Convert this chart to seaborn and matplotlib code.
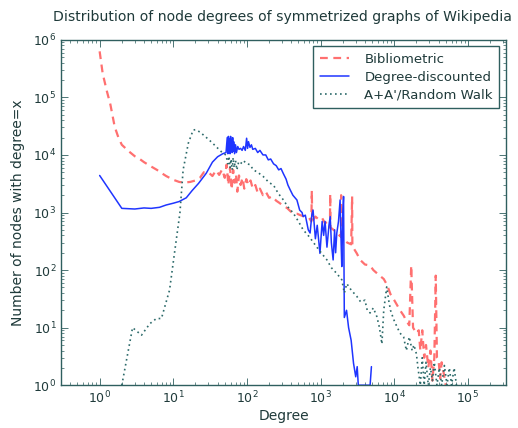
import matplotlib
matplotlib.use("Agg")
import matplotlib.pyplot as plt
import seaborn as sns
import pandas as pd
import numpy as np

# ---------------- data ----------------
bib_deg = [1, 1.1, 1.25, 1.4, 1.6, 1.8, 2.0, 2.5, 3.0, 3.5, 4.0, 5.0, 6.0, 7.0, 8.0,
           10, 12, 14, 17, 20, 23, 26, 30, 34, 38, 42, 46, 50, 53, 56, 59, 62, 65,
           68, 71, 74, 78, 82, 87, 92, 98, 105, 112, 120, 130, 140, 150, 165, 180,
           200, 220, 250, 280, 310, 350, 390, 430, 480, 530, 600, 700, 750, 760,
           770, 850, 950, 1050, 1150, 1250, 1340, 1350, 1360, 1500, 1650, 1800,
           1890, 1900, 1910, 2100, 2300, 2600, 2680, 2700, 3100, 3450, 4000, 4700,
           5200, 6000, 7200, 8000, 8900, 10000, 12000, 13500, 14600, 16000, 17000,
           18000, 20000, 21500, 22600, 24000, 25500, 27000, 29000, 31000, 33000,
           35000, 36600, 38000, 40000, 42000, 44000, 47000, 50000]
bib_cnt = [6.3e5, 2.6e5, 1.3e5, 7.5e4, 3.1e4, 2.0e4, 1.5e4, 1.15e4, 9.5e3, 8.5e3,
           7.5e3, 6.3e3, 5.5e3, 4.8e3, 4.3e3, 3.7e3, 3.4e3, 3.3e3, 3.4e3, 3.6e3,
           4.0e3, 5.0e3, 5.0e3, 4.3e3, 5.4e3, 4.5e3, 5.6e3, 4.0e3, 6.8e3, 3.0e3,
           6.0e3, 2.5e3, 5.5e3, 3.3e3, 4.6e3, 2.3e3, 4.4e3, 3.0e3, 4.0e3, 2.6e3,
           3.8e3, 3.0e3, 3.6e3, 2.6e3, 3.0e3, 2.2e3, 2.6e3, 2.0e3, 2.3e3, 1.8e3,
           1.9e3, 1.6e3, 1.45e3, 1.3e3, 1.2e3, 1.05e3, 950, 950, 900, 850, 800,
           700, 2400, 700, 850, 750, 800, 650, 700, 550, 2100, 550, 500, 450, 400,
           380, 2000, 380, 330, 300, 280, 1900, 260, 195, 150, 125, 120, 100, 85,
           70, 55, 38, 30, 20, 16, 13, 11, 120, 10, 8, 9, 4, 9, 3, 5, 2, 4, 1.2,
           3, 80, 3, 2.7, 1.3, 2.5, 1.6, 1]

dd_deg = [1, 2, 3, 4, 5, 6.5, 8, 10, 12, 15, 18, 22, 28, 34, 40, 47, 52, 54, 55,
          56, 57, 58, 59, 60, 61, 62, 63, 64, 65, 66, 68, 70, 72, 75, 78, 82, 86,
          90, 95, 99, 102, 105, 110, 115, 120, 130, 140, 150, 165, 180, 195, 210,
          230, 250, 270, 290, 313, 340, 360, 385, 420, 450, 477, 520, 560, 580,
          620, 680, 720, 760, 790, 850, 900, 980, 1050, 1100, 1150, 1220, 1300,
          1350, 1400, 1480, 1550, 1600, 1660, 1750, 1840, 1900, 1940, 2000, 2050,
          2100, 2250, 2400, 2600, 2800, 3000, 3140, 3250, 4700, 4900]
dd_cnt = [4400, 1180, 1150, 1200, 1180, 1230, 1350, 1450, 1550, 1800, 2400, 3200,
          4800, 7500, 9300, 10500, 11000, 20000, 10500, 21000, 11000, 19000, 10500,
          21000, 12000, 18000, 11000, 20000, 11500, 17000, 10500, 15000, 11000,
          14000, 12500, 13000, 12000, 14000, 12000, 19500, 13000, 17000, 13500,
          15000, 12500, 13000, 11000, 12000, 10000, 10000, 8200, 8500, 7000, 6500,
          5500, 5800, 4700, 3800, 3000, 2500, 2000, 1800, 1650, 1100, 1000, 850,
          900, 500, 440, 900, 1100, 350, 600, 195, 700, 400, 700, 250, 600, 850,
          300, 150, 500, 200, 440, 700, 1650, 300, 115, 900, 1900, 15, 20, 10, 6,
          2.4, 1.4, 2.1, 1, 1, 2.1]

rw_deg = [2, 2.8, 3.7, 4.8, 5.9, 6.9, 8.9, 10.5, 12.3, 13.6, 16, 18.6, 20, 23, 27,
          31, 37, 43, 48, 52, 55, 57, 59, 61, 63, 65, 67, 70, 73, 77, 82, 89, 100,
          110, 122, 140, 167, 200, 229, 266, 313, 360, 425, 500, 580, 700, 890,
          1050, 1220, 1400, 1660, 1940, 2100, 2270, 2600, 3100, 3500, 4000, 4300,
          4700, 5200, 5800, 6300, 6800, 7200, 7900, 8400, 8900, 9800, 10900, 12000,
          13400, 14600, 16000, 17500, 18500, 20000, 21000, 22600, 24000, 25500,
          27000, 29000, 31000, 33000, 35000, 38000, 41000, 44000, 48000, 52000,
          56000, 60000, 65000, 70000]
rw_cnt = [1, 10, 7.4, 11.7, 14.4, 14.4, 45, 220, 980, 5500, 16000, 27000, 27500,
          25000, 21000, 18000, 14500, 12000, 10500, 10000, 7000, 9500, 6000, 8500,
          5500, 9000, 6000, 8000, 5500, 7500, 7000, 8000, 7000, 6800, 5500, 5000,
          4200, 3300, 3000, 2150, 1650, 1250, 980, 700, 500, 380, 250, 190, 150,
          110, 87, 68, 40, 58, 45, 35, 28, 30, 20, 18, 22, 15.6, 10, 5.2, 20, 51,
          30, 20, 14, 10.3, 8, 6.9, 4, 6.9, 4, 5, 3.5, 2, 1, 3, 1, 2.5, 1, 2, 1.2,
          2.5, 1, 2, 1, 2.2, 1, 2, 1, 2, 1]

labels = ["Bibliometric", "Degree-discounted", "A+A'/Random Walk"]
x_major = [1, 10, 100, 1000, 10000, 100000]
y_major = [1, 10, 100, 1000, 10000, 100000, 1000000]

# ---------------- style ----------------
sns.set_theme(style="white")
TXT = "#1f3a3a"
SPN = "#2f5f5f"
plt.rcParams.update({
    "font.family": ["DejaVu Sans"],
    "text.color": TXT, "axes.labelcolor": TXT,
    "xtick.color": SPN, "ytick.color": SPN,
    "xtick.labelcolor": TXT, "ytick.labelcolor": TXT,
    "axes.edgecolor": SPN,
    "xtick.direction": "in", "ytick.direction": "in",
    "xtick.top": True, "ytick.right": True,
    "xtick.bottom": True, "ytick.left": True,
    "xtick.minor.visible": True, "ytick.minor.visible": True,
    "xtick.major.size": 5, "ytick.major.size": 5,
    "xtick.minor.size": 2.5, "ytick.minor.size": 2.5,
    "xtick.major.width": 0.6, "ytick.major.width": 0.6,
    "xtick.minor.width": 0.5, "ytick.minor.width": 0.5,
    "axes.linewidth": 1.0,
})

fig = plt.figure(figsize=(5.18, 4.28), dpi=100)
ax = fig.add_axes([0.118, 0.100, 0.859, 0.807])

df_b = pd.DataFrame({"deg": bib_deg, "cnt": bib_cnt})
df_d = pd.DataFrame({"deg": dd_deg, "cnt": dd_cnt})
df_r = pd.DataFrame({"deg": rw_deg, "cnt": rw_cnt})

sns.lineplot(data=df_b, x="deg", y="cnt", ax=ax, color="#ff4c4c", lw=1.6,
             linestyle=(0, (3.5, 2.5)), estimator=None, sort=False, label=labels[0],
             alpha=0.8)
sns.lineplot(data=df_d, x="deg", y="cnt", ax=ax, color="#1f35ff", lw=1.1,
             estimator=None, sort=False, label=labels[1])
sns.lineplot(data=df_r, x="deg", y="cnt", ax=ax, color="#2c6a6a", lw=1.2,
             linestyle=(0, (1, 2)), estimator=None, sort=False, label=labels[2])

ax.set_xscale("log")
ax.set_yscale("log")
ax.set_xticks(x_major)
ax.set_yticks(y_major)
ax.set_xlim(0.3, 3.3e5)
ax.set_ylim(1, 1e6)
ax.set_xlabel("Degree", fontsize=10, labelpad=2)
ax.set_ylabel("Number of nodes with degree=x", fontsize=10, labelpad=6)
ax.tick_params(labelsize=9, which="both")
fig.text(0.545, 0.96, "Distribution of node degrees of symmetrized graphs of Wikipedia",
         ha="center", va="center", fontsize=10.1, color=TXT)
for s in ax.spines.values():
    s.set_visible(True)
    s.set_color(SPN)

leg = ax.legend(loc="upper right", fontsize=9.5, frameon=True, fancybox=False,
                edgecolor=SPN, framealpha=1, handlelength=2.2, borderpad=0.5,
                labelspacing=0.35, handletextpad=1.2, borderaxespad=0.5)
leg.get_frame().set_linewidth(1.0)

fig.savefig("out.png", dpi=100)
